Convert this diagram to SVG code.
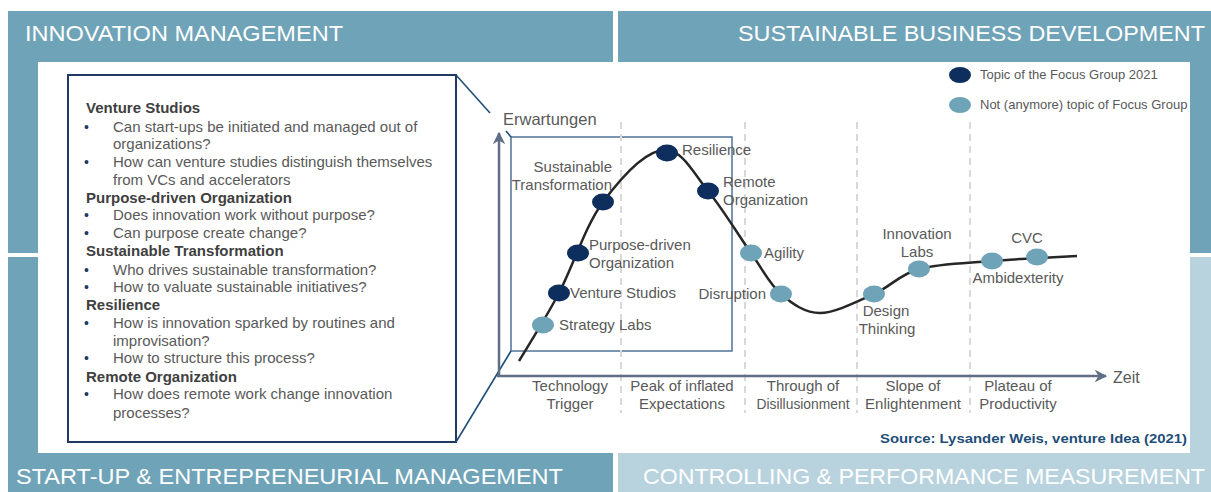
<svg xmlns="http://www.w3.org/2000/svg" width="1211" height="492" viewBox="0 0 1211 492">
<defs>
<marker id="arr" viewBox="0 0 10 10" refX="9" refY="5" markerWidth="5" markerHeight="5" orient="auto" markerUnits="strokeWidth">
<path d="M0,0 L10,5 L0,10 L3,5 z" fill="#5F6E85"/>
</marker>
<style>
.dk{fill:#6FA3B8}
.lt{fill:#B8D3DE}
.title{font-family:'Liberation Sans',Arial,sans-serif;font-size:22px;fill:#ffffff}
.lbl{font-family:'Liberation Sans',Arial,sans-serif;font-size:15px;fill:#595959}
.ph{font-family:'Liberation Sans',Arial,sans-serif;font-size:15px;fill:#595959;text-anchor:middle}
.h{font-family:'Liberation Sans',Arial,sans-serif;font-size:15px;font-weight:bold;fill:#404040}
.b{font-family:'Liberation Sans',Arial,sans-serif;font-size:15px;fill:#595959}
.bul{font-family:'Liberation Sans',Arial,sans-serif;font-size:14px;fill:#1F3864}
.leg{font-family:'Liberation Sans',Arial,sans-serif;font-size:13px;fill:#595959}
.navy{fill:#0E2F5E}
.teal{fill:#6FA3B8}
.dash{stroke:#D9D9D9;stroke-width:2;stroke-dasharray:7 5;fill:none}
.axis{stroke:#5F6E85;stroke-width:2.5;fill:none}
.call{stroke:#1F4E79;stroke-width:1.6;fill:none}
</style>
</defs>
<rect width="1211" height="492" fill="#ffffff"/>

<g id="frame">
<rect class="dk" x="8" y="11" width="605" height="242"/>
<rect class="dk" x="618" y="11" width="593" height="242"/>
<rect class="dk" x="8" y="257" width="605" height="235"/>
<rect class="lt" x="618" y="257" width="593" height="235"/>
<rect x="38" y="62" width="1152" height="391" fill="#ffffff"/>
<text class="title" x="25" y="41" textLength="318" lengthAdjust="spacingAndGlyphs">INNOVATION MANAGEMENT</text>
<text class="title" x="738" y="41" textLength="467" lengthAdjust="spacingAndGlyphs">SUSTAINABLE BUSINESS DEVELOPMENT</text>
<text class="title" x="16" y="484" textLength="547" lengthAdjust="spacingAndGlyphs">START-UP &amp; ENTREPRENEURIAL MANAGEMENT</text>
<text class="title" x="643" y="484" textLength="562" lengthAdjust="spacingAndGlyphs">CONTROLLING &amp; PERFORMANCE MEASUREMENT</text>
</g>

<g id="focus-box">
<rect x="68" y="75" width="388" height="367" fill="#ffffff" stroke="#1F3864" stroke-width="2"/>
<text class="h" x="86" y="113">Venture Studios</text>
<text class="bul" x="84" y="132">•</text><text class="b" x="113" y="132">Can start-ups be initiated and managed out of</text>
<text class="b" x="113" y="149">organizations?</text>
<text class="bul" x="84" y="167">•</text><text class="b" x="113" y="167">How can venture studies distinguish themselves</text>
<text class="b" x="113" y="185">from VCs and accelerators</text>
<text class="h" x="86" y="203">Purpose-driven Organization</text>
<text class="bul" x="84" y="220">•</text><text class="b" x="113" y="220">Does innovation work without purpose?</text>
<text class="bul" x="84" y="238">•</text><text class="b" x="113" y="238">Can purpose create change?</text>
<text class="h" x="86" y="256">Sustainable Transformation</text>
<text class="bul" x="84" y="275">•</text><text class="b" x="113" y="275">Who drives sustainable transformation?</text>
<text class="bul" x="84" y="292">•</text><text class="b" x="113" y="292">How to valuate  sustainable initiatives?</text>
<text class="h" x="86" y="310">Resilience</text>
<text class="bul" x="84" y="328">•</text><text class="b" x="113" y="328">How is innovation sparked by routines and</text>
<text class="b" x="113" y="346">improvisation?</text>
<text class="bul" x="84" y="363">•</text><text class="b" x="113" y="363">How to structure this process?</text>
<text class="h" x="86" y="382">Remote Organization</text>
<text class="bul" x="84" y="399">•</text><text class="b" x="113" y="399">How does remote work change innovation</text>
<text class="b" x="113" y="418">processes?</text>
</g>

<g id="zoom-frame">
<rect x="511" y="137" width="221" height="214" fill="none" stroke="#4F7398" stroke-width="1.5"/>
</g>

<g id="phases">
<line class="dash" x1="621" y1="122" x2="621" y2="413"/>
<line class="dash" x1="745" y1="122" x2="745" y2="413"/>
<line class="dash" x1="857" y1="122" x2="857" y2="413"/>
<line class="dash" x1="970" y1="122" x2="970" y2="413"/>
<text class="ph" x="570" y="391">Technology</text>
<text class="ph" x="570" y="409">Trigger</text>
<text class="ph" x="682" y="391">Peak of inflated</text>
<text class="ph" x="682" y="409">Expectations</text>
<text class="ph" x="803" y="391">Through of</text>
<text class="ph" x="803" y="409" textLength="93" lengthAdjust="spacingAndGlyphs">Disillusionment</text>
<text class="ph" x="913" y="391">Slope of</text>
<text class="ph" x="913" y="409">Enlightenment</text>
<text class="ph" x="1018" y="391">Plateau of</text>
<text class="ph" x="1018" y="409">Productivity</text>
</g>

<g id="connectors">
<line class="call" x1="456" y1="75" x2="490" y2="113"/>
<line class="call" x1="506" y1="131" x2="511" y2="137"/>
<line class="call" x1="456" y1="442" x2="511" y2="351"/>
<line class="axis" x1="499" y1="377" x2="499" y2="133" marker-end="url(#arr)"/>
<line class="axis" x1="497" y1="376" x2="1106" y2="376" stroke-width="2" marker-end="url(#arr)"/>
<path d="M519,361 C525.7,349.7 545,319.5 559,293 C573,266.5 585.3,225.8 603,202 C620.7,178.2 645,150 665,150 C683,150 693.7,173.8 708,191 C722.3,208.2 738.8,235.8 751,253 C763.2,270.2 769.5,284 781,294 C792.5,304 805,313 820,313 C835,313 857.5,301.3 874,294 C890.5,286.7 899.3,274.5 919,269 C938.7,263.5 965.7,263.2 992,261 C1018.3,258.8 1062.8,256.8 1077,256" fill="none" stroke="#262626" stroke-width="2.5"/>
</g>

<g id="axis-labels">
<text x="503" y="125" font-family="'Liberation Sans',Arial,sans-serif" font-size="16.5" fill="#595959">Erwartungen</text>
<text x="1113" y="383" font-family="'Liberation Sans',Arial,sans-serif" font-size="16" fill="#595959">Zeit</text>
</g>

<g id="strategy-labs"><ellipse class="teal" cx="543" cy="325" rx="11" ry="8.5"/><text class="lbl" x="559" y="330">Strategy Labs</text></g>
<g id="venture-studios"><ellipse class="navy" cx="559" cy="293" rx="11" ry="8.5"/><text class="lbl" x="570" y="298">Venture Studios</text></g>
<g id="purpose-driven"><ellipse class="navy" cx="578" cy="253" rx="11" ry="8.5"/><text class="lbl" x="589" y="250">Purpose-driven</text><text class="lbl" x="589" y="268">Organization</text></g>
<g id="sustainable-transformation"><ellipse class="navy" cx="603" cy="202" rx="11" ry="8.5"/><text class="lbl" x="612" y="172" text-anchor="end">Sustainable</text><text class="lbl" x="612" y="190" text-anchor="end">Transformation</text></g>
<g id="resilience"><ellipse class="navy" cx="667" cy="153" rx="11" ry="8.5"/><text class="lbl" x="682" y="155">Resilience</text></g>
<g id="remote-organization"><ellipse class="navy" cx="708" cy="191" rx="11" ry="8.5"/><text class="lbl" x="723" y="187">Remote</text><text class="lbl" x="723" y="205">Organization</text></g>
<g id="agility"><ellipse class="teal" cx="751" cy="253" rx="11" ry="8.5"/><text class="lbl" x="764" y="258">Agility</text></g>
<g id="disruption"><ellipse class="teal" cx="781" cy="294" rx="11" ry="8.5"/><text class="lbl" x="766" y="299" text-anchor="end">Disruption</text></g>
<g id="design-thinking"><ellipse class="teal" cx="874" cy="294" rx="11" ry="8.5"/><text class="lbl" x="886" y="316" text-anchor="middle">Design</text><text class="lbl" x="887" y="334" text-anchor="middle">Thinking</text></g>
<g id="innovation-labs"><ellipse class="teal" cx="919" cy="269" rx="11" ry="8.5"/><text class="lbl" x="917" y="239" text-anchor="middle">Innovation</text><text class="lbl" x="917" y="257" text-anchor="middle">Labs</text></g>
<g id="ambidexterity"><ellipse class="teal" cx="992" cy="261" rx="11" ry="8.5"/><text class="lbl" x="1018" y="283" text-anchor="middle">Ambidexterity</text></g>
<g id="cvc"><ellipse class="teal" cx="1037" cy="257" rx="11" ry="8.5"/><text class="lbl" x="1027" y="243" text-anchor="middle">CVC</text></g>

<g id="legend">
<ellipse class="navy" cx="960" cy="75" rx="11" ry="8"/><text class="leg" x="980" y="79">Topic of the Focus Group 2021</text>
<ellipse class="teal" cx="960" cy="105" rx="11" ry="8"/><text class="leg" x="980" y="109">Not (anymore) topic of Focus Group</text>
</g>

<g id="source">
<text x="1187" y="443" text-anchor="end" font-family="'Liberation Sans',Arial,sans-serif" font-size="13" font-weight="bold" fill="#1F4E79" textLength="307" lengthAdjust="spacingAndGlyphs">Source: Lysander Weis, venture Idea (2021)</text>
</g>
</svg>
